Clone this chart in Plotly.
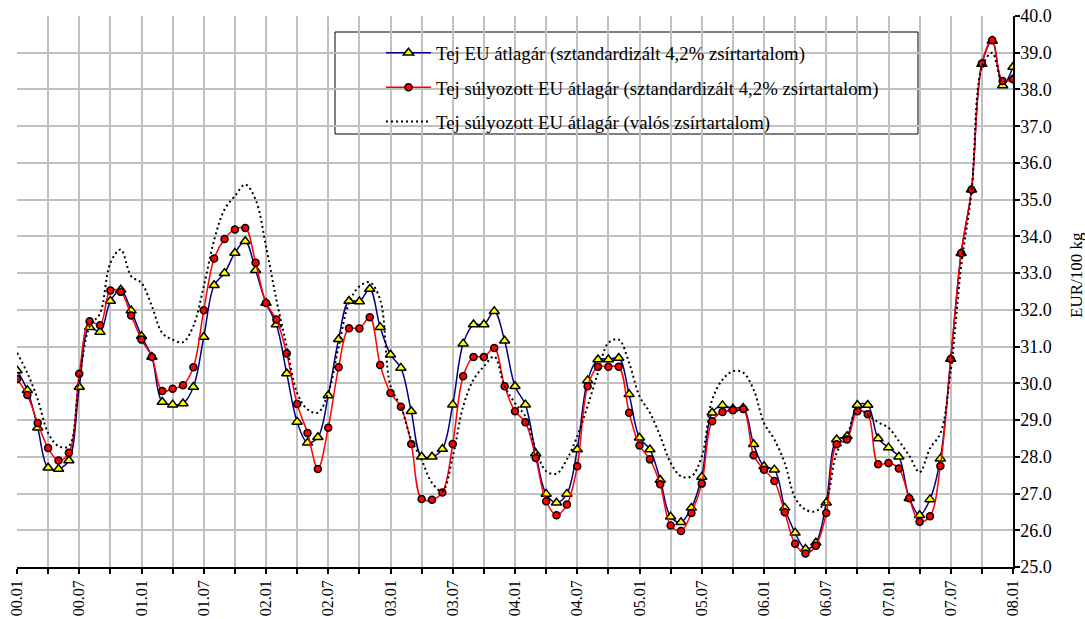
import plotly.graph_objects as go

# month categories 00.01 ... 08.01
months = [f"{y:02d}.{m:02d}" for y in range(0, 9) for m in range(1, 13)][:97]

eu_avg_std = [
    30.35, 29.81, 28.79, 27.70, 27.67, 27.90, 29.90, 31.53, 31.40, 32.24, 32.55, 31.98,
    31.28, 30.72, 29.49, 29.42, 29.45, 29.90, 31.26, 32.67, 33.00, 33.55, 33.87, 33.08,
    32.19, 31.60, 30.27, 28.95, 28.38, 28.53, 29.67, 31.20, 32.24, 32.23, 32.57, 31.53,
    30.78, 30.42, 29.24, 28.00, 28.00, 28.21, 29.42, 31.08, 31.60, 31.60, 31.96, 31.16,
    29.92, 29.42, 28.09, 26.99, 26.75, 26.99, 28.20, 30.08, 30.65, 30.65, 30.69, 29.70,
    28.52, 28.20, 27.37, 26.37, 26.22, 26.61, 27.45, 29.20, 29.40, 29.31, 29.33, 28.34,
    27.74, 27.65, 26.61, 25.93, 25.49, 25.66, 26.75, 28.47, 28.56, 29.41, 29.41, 28.50,
    28.25, 28.00, 26.87, 26.41, 26.84, 27.95, 30.66, 33.54, 35.27, 38.69, 39.32, 38.11,
    38.61,
]

weighted_std = [
    30.12, 29.68, 28.92, 28.24, 27.90, 28.11, 30.26, 31.69, 31.58, 32.53, 32.49, 31.85,
    31.19, 30.72, 29.79, 29.85, 29.95, 30.44, 31.99, 33.40, 33.93, 34.19, 34.23, 33.28,
    32.19, 31.74, 30.81, 29.44, 28.65, 27.67, 28.79, 30.44, 31.50, 31.49, 31.80, 30.50,
    29.74, 29.36, 28.35, 26.85, 26.83, 27.03, 28.35, 30.19, 30.72, 30.72, 30.96, 29.92,
    29.24, 28.94, 27.97, 26.79, 26.41, 26.70, 27.74, 29.92, 30.45, 30.45, 30.45, 29.20,
    28.31, 27.93, 27.25, 26.13, 25.98, 26.47, 27.27, 28.97, 29.22, 29.27, 29.30, 28.04,
    27.65, 27.34, 26.49, 25.63, 25.37, 25.58, 26.47, 28.34, 28.47, 29.24, 29.16, 27.80,
    27.83, 27.68, 26.87, 26.23, 26.38, 27.75, 30.66, 33.54, 35.27, 38.71, 39.34, 38.23,
    38.28,
]

weighted_real = [
    30.83, 30.28, 29.56, 28.65, 28.29, 28.29, 30.10, 31.55, 31.90, 33.28, 33.64, 32.92,
    32.73, 32.10, 31.37, 31.19, 31.12, 31.56, 32.64, 33.90, 34.73, 35.10, 35.41, 35.00,
    33.73, 32.28, 31.00, 29.74, 29.29, 29.20, 29.74, 31.00, 32.19, 32.64, 32.75, 32.28,
    29.92, 29.37, 28.47, 27.92, 27.29, 27.06, 28.00, 29.37, 30.10, 30.46, 30.73, 29.92,
    29.46, 29.10, 28.20, 27.61, 27.54, 27.93, 28.56, 29.38, 30.29, 31.10, 31.19, 30.56,
    29.65, 29.20, 28.56, 27.84, 27.47, 27.47, 28.00, 29.55, 30.10, 30.33, 30.29, 29.83,
    28.92, 28.47, 27.83, 26.88, 26.56, 26.52, 26.84, 28.11, 28.56, 29.33, 29.14, 28.94,
    28.79, 28.43, 28.03, 27.58, 28.23, 28.64, 30.35, 33.18, 35.20, 38.60, 39.00, 38.20,
    38.40,
]

names = [
    "Tej EU átlagár (sztandardizált 4,2% zsírtartalom)",
    "Tej súlyozott EU átlagár (sztandardizált 4,2% zsírtartalom)",
    "Tej súlyozott EU átlagár (valós zsírtartalom)",
]

tick_vals = months[::3]
tick_text = [m if i % 2 == 0 else "" for i, m in enumerate(tick_vals)]
y_ticks = [25 + i for i in range(16)]
y_title = "EUR/100 kg"

SERIF = "Liberation Serif"

fig = go.Figure()
fig.add_trace(go.Scatter(
    x=months, y=eu_avg_std, name=names[0], mode="lines+markers", legendgroup="a",
    line=dict(color="#000080", width=1.5, shape="spline", smoothing=1.0),
    marker=dict(symbol="triangle-up", size=9, color="#FFFF00", line=dict(color="black", width=1.5)),
))
fig.add_trace(go.Scatter(
    x=months, y=weighted_std, name=names[1], mode="lines+markers", legendgroup="b",
    line=dict(color="#FF0000", width=1.5, shape="spline", smoothing=1.0),
    marker=dict(symbol="circle", size=7, color="#FF0000", line=dict(color="black", width=1.5)),
))
fig.add_trace(go.Scatter(
    x=months, y=weighted_real, name=names[2], mode="lines", legendgroup="c",
    line=dict(color="black", width=2, shape="spline", smoothing=1.0, dash="2px,3px"),
))

W, H = 1085, 619
PL, PR, PT, PB = 17, 1013, 16, 567  # plot area edges in pixels
L, R, T, B = PL, W - PR, PT, H - PB
pw, ph = PR - PL, PB - PT

def px_x(px):
    return (px - PL) / pw

def px_y(py):
    return 1 - (py - PT) / ph

fig.add_shape(type="rect", xref="paper", yref="paper",
              x0=px_x(335), x1=px_x(918), y0=px_y(134), y1=px_y(32),
              fillcolor="white", line=dict(color="black", width=1), layer="between")

fig.add_annotation(text=y_title, xref="paper", yref="paper",
                   x=px_x(1076), y=px_y(275), textangle=-90, showarrow=False,
                   xanchor="center", yanchor="middle",
                   font=dict(family=SERIF, size=17, color="black"))

fig.update_layout(
    width=W, height=H,
    margin=dict(l=L, r=R, t=T, b=B, autoexpand=False),
    paper_bgcolor="white", plot_bgcolor="white",
    font=dict(family=SERIF, color="black"),
    showlegend=True,
    legend=dict(
        x=px_x(381), y=px_y(34), xanchor="left", yanchor="top",
        bgcolor="rgba(0,0,0,0)", borderwidth=0,
        font=dict(family=SERIF, size=18.8, color="black"),
        tracegroupgap=7, itemwidth=45,
    ),
    xaxis=dict(
        type="category", range=[0, 96], automargin=False,
        tickmode="array", tickvals=tick_vals, ticktext=tick_text,
        tickangle=-90, tickfont=dict(family=SERIF, size=16, color="black"),
        showgrid=True, gridcolor="#c0c0c0", gridwidth=1.5,
        showline=True, linecolor="black", linewidth=1.5,
        ticks="outside", ticklen=5, tickcolor="black", tickwidth=1.5,
        zeroline=False,
    ),
    yaxis=dict(
        side="right", range=[25, 40], automargin=False,
        tickmode="array", tickvals=y_ticks, tickformat=".1f",
        tickfont=dict(family=SERIF, size=18, color="black"),
        ticklabeloverflow="allow", ticklabelstandoff=-3,
        showgrid=True, gridcolor="#c0c0c0", gridwidth=1.5,
        showline=True, linecolor="black", linewidth=1.5,
        ticks="outside", ticklen=5, tickcolor="black", tickwidth=1.5,
        zeroline=False,
    ),
)

fig.write_html(
    "out.html",
    config={"displayModeBar": False},
    post_script="document.body.style.margin='0';document.body.style.overflow='hidden';",
)
